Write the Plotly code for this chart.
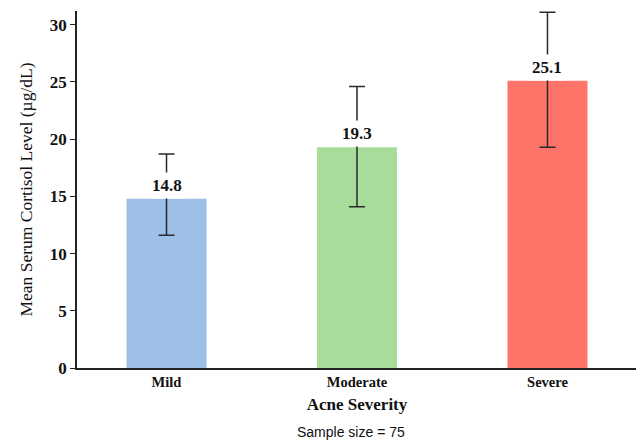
import plotly.graph_objects as go

categories = ["Mild", "Moderate", "Severe"]
means = [14.8, 19.3, 25.1]
err_plus = [3.9, 5.3, 6.0]
err_minus = [3.2, 5.2, 5.8]
colors = ["#9EC0E8", "#A8DC9A", "#FF7468"]
y_ticks = [0, 5, 10, 15, 20, 25, 30]
sample_size = 75

fig = go.Figure()
fig.add_trace(go.Bar(
    x=categories, y=means, width=0.42,
    marker=dict(color=colors, line=dict(width=0)),
    error_y=dict(type="data", symmetric=False, array=err_plus, arrayminus=err_minus,
                 color="#2a2a2a", thickness=1.5, width=8),
    showlegend=False,
))

for c, m in zip(categories, means):
    fig.add_annotation(x=c, y=m, text=f"<b>{m}</b>", showarrow=False,
                       yanchor="bottom", bgcolor="white", borderpad=3,
                       font=dict(family="Liberation Serif", size=17, color="#111"))

fig.add_annotation(x=0.49, y=-0.18, xref="paper", yref="paper",
                   text=f"Sample size = {sample_size}", showarrow=False,
                   yanchor="middle",
                   font=dict(family="Liberation Sans", size=14, color="#111"))

fig.update_layout(
    width=644, height=443,
    margin=dict(l=69, r=15, t=2.5, b=82.5, autoexpand=False),
    paper_bgcolor="white", plot_bgcolor="white",
    xaxis=dict(range=[-0.47, 2.47], showline=True, linecolor="#222", linewidth=1.5,
               ticks="", showgrid=False, automargin=False,
               tickfont=dict(family="Liberation Serif", size=14.5, color="#111"),
               tickvals=categories, ticktext=[f"<b>{c}</b>" for c in categories],
               title=dict(text="<b>Acne Severity</b>", standoff=9,
                          font=dict(family="Liberation Serif", size=17, color="#111"))),
    yaxis=dict(range=[0, 31.2], showline=True, linecolor="#222", linewidth=1.5,
               ticks="outside", ticklen=5, tickcolor="#222", showgrid=False, zeroline=False,
               automargin=False,
               tickvals=y_ticks, ticktext=[f"<b>{t}</b>" for t in y_ticks],
               tickfont=dict(family="Liberation Serif", size=17, color="#111"),
               title=dict(text="Mean Serum Cortisol Level (µg/dL)", standoff=13,
                          font=dict(family="Liberation Serif", size=17.5, color="#111"))),
)

fig.write_html("out.html")
